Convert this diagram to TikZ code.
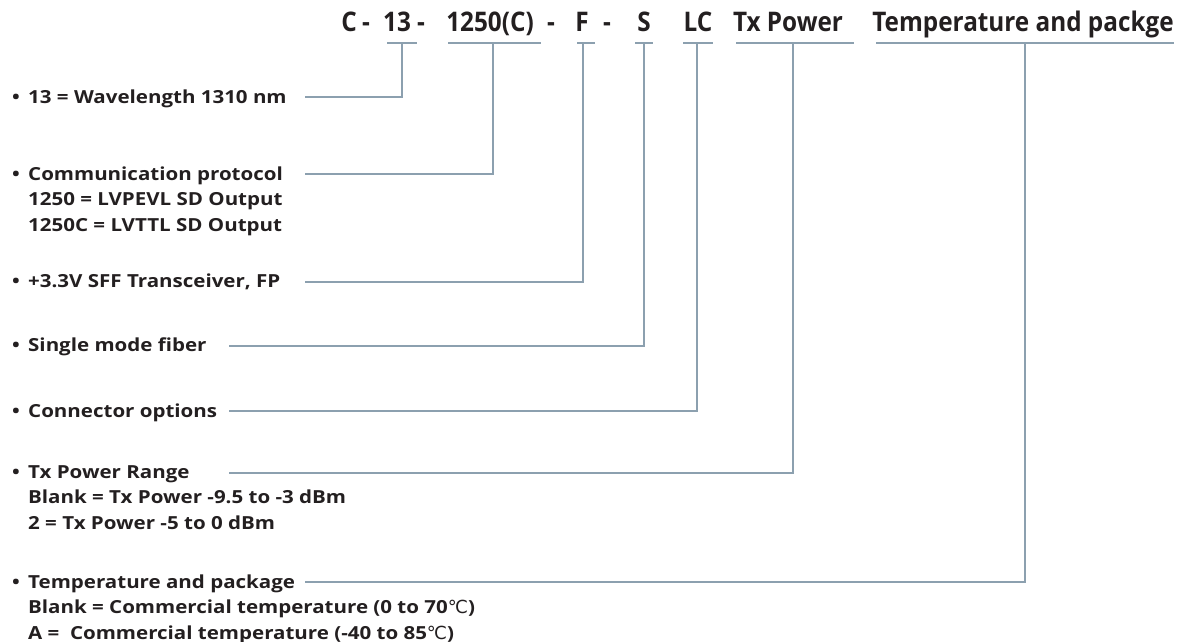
\documentclass[tikz,border=0pt]{standalone}
\usepackage{fontspec}
\setmainfont[FakeStretch=1.14]{Open Sans}
\newfontfamily\headfont[FakeStretch=0.9]{Open Sans}
\newfontfamily\symfont{DejaVu Sans}
\usetikzlibrary{positioning}
\definecolor{ink}{RGB}{35,31,32}
\definecolor{leader}{RGB}{140,160,175}
\tikzstyle{part} = [
    inner sep=0pt,
    anchor=base,
    text=ink,
    font=\headfont\bfseries\fontsize{27}{30}\selectfont
]
\tikzstyle{item} = [
    inner sep=0pt,
    anchor=base west,
    text=ink,
    font=\bfseries\fontsize{18}{25.5}\selectfont
]
\tikzstyle{link} = [
    draw=leader,
    line width=1.2pt
]
\newcommand{\bul}{\makebox[16pt][l]{\textbullet}}
\newcommand{\ind}{\hspace*{16pt}}
\newcommand{\degc}{{\symfont\mdseries ℃}}

\begin{document}
\begin{tikzpicture}[x=1pt, y=-1pt]
    \useasboundingbox (0,0) rectangle (1180,642);

    % part number
    \node[part] (pC) at (349,32) {C};
    \node[part] (d1) at (366,32) {-};
    \node[part] (p13) at (397,32) {13};
    \node[part] (d2) at (421,32) {-};
    \node[part] (p1250) at (490,32) {1250(C)};
    \node[part] (d3) at (551,32) {-};
    \node[part] (pF) at (582,32) {F};
    \node[part] (d4) at (607,32) {-};
    \node[part] (pS) at (644,32) {S};
    \node[part] (pLC) at (698,32) {LC};
    \node[part] (pTx) at (788,32) {Tx Power};
    \node[part] (pTemp) at (1023,32) {Temperature and packge};

    % bars under the parts
    \draw[link] (387,43) -- (417,43);
    \draw[link] (448,43) -- (541,43);
    \draw[link] (577,43) -- (595,43);
    \draw[link] (635,43) -- (653,43);
    \draw[link] (683,43) -- (713,43);
    \draw[link] (736,43) -- (854,43);
    \draw[link] (876,43) -- (1174,43);
    \coordinate (b13) at (402,43);
    \coordinate (b1250) at (493,43);
    \coordinate (bF) at (583,43);
    \coordinate (bS) at (644,43);
    \coordinate (bLC) at (697,43);
    \coordinate (bTx) at (793,43);
    \coordinate (bTemp) at (1025,43);

    % explanations
    \node[item] (l13) at (12,103) {\bul 13 = Wavelength 1310 nm};
    \node[item] (lComm) at (12,180) {\begin{tabular}[t]{@{}l@{}}
        \bul Communication protocol\\
        \ind 1250 = LVPEVL SD Output\\
        \ind 1250C = LVTTL SD Output
    \end{tabular}};
    \node[item] (lSFF) at (12,287) {\bul +3.3V SFF Transceiver, FP};
    \node[item] (lSMF) at (12,351) {\bul Single mode fiber};
    \node[item] (lConn) at (12,417) {\bul Connector options};
    \node[item] (lTx) at (12,478) {\begin{tabular}[t]{@{}l@{}}
        \bul Tx Power Range\\
        \ind Blank = Tx Power -9.5 to -3 dBm\\
        \ind 2 = Tx Power -5 to 0 dBm
    \end{tabular}};
    \node[item] (lTemp) at (12,588) {\begin{tabular}[t]{@{}l@{}}
        \bul Temperature and package\\
        \ind Blank = Commercial temperature (0 to 70\degc)\\
        \ind A = \ Commercial temperature (-40 to 85\degc)
    \end{tabular}};

    % leader lines
    \coordinate (e13) at (305,97);
    \coordinate (eComm) at (305,174);
    \coordinate (eSFF) at (305,282);
    \coordinate (eSMF) at (229,346);
    \coordinate (eConn) at (229,411);
    \coordinate (eTx) at (229,473);
    \coordinate (eTemp) at (305,582);
    \draw[link] (e13) -| (b13);
    \draw[link] (eComm) -| (b1250);
    \draw[link] (eSFF) -| (bF);
    \draw[link] (eSMF) -| (bS);
    \draw[link] (eConn) -| (bLC);
    \draw[link] (eTx) -| (bTx);
    \draw[link] (eTemp) -| (bTemp);
\end{tikzpicture}
\end{document}
